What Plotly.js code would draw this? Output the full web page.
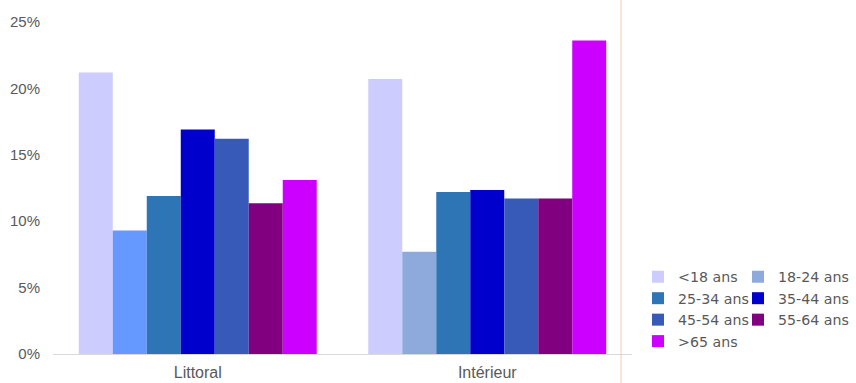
<!DOCTYPE html>
<html>
<head>
<meta charset="utf-8">
<script src="https://cdn.plot.ly/plotly-3.0.1.min.js"></script>
<style>html,body{margin:0;padding:0;background:#fff;}#chart{width:856px;height:383px;}</style>
</head>
<body>
<div id="chart"></div>
<script>
// Categories (display order)
const categories = ['Littoral', 'Intérieur'];
// Age groups
const seriesNames = ['<18 ans', '18-24 ans', '25-34 ans', '35-44 ans', '45-54 ans', '55-64 ans', '>65 ans'];
// Values in % : [Littoral, Intérieur]
const lt18   = [21.2, 20.7];
const a18_24 = [9.3, 7.7];
const a25_34 = [11.9, 12.2];
const a35_44 = [16.9, 12.35];
const a45_54 = [16.2, 11.7];
const a55_64 = [11.35, 11.7];
const gt65   = [13.1, 23.6];
const seriesValues = [lt18, a18_24, a25_34, a35_44, a45_54, a55_64, gt65];
// Colours per series: [Littoral, Intérieur]
const seriesColors = [
  ['#CCCCFF', '#CCCCFF'],
  ['#6699FF', '#8EA9DB'],
  ['#2E75B6', '#2E75B6'],
  ['#0000CC', '#0000CC'],
  ['#375AB9', '#375AB9'],
  ['#800080', '#800080'],
  ['#CC00FF', '#CC00FF']
];
const yTickVals = [0, 5, 10, 15, 20, 25];
const yTickText = yTickVals.map(v => v + '%');

// Points are given Intérieur-first so the legend swatch uses the Intérieur colour
const order = [1, 0];
const traces = seriesNames.map((name, i) => ({
  type: 'bar',
  name: name,
  x: order.map(k => categories[k]),
  y: order.map(k => seriesValues[i][k]),
  marker: { color: order.map(k => seriesColors[i][k]), line: { width: 0 } },
  legend: (i % 2 === 0) ? 'legend' : 'legend2',
  hoverinfo: 'x+y+name'
}));

const legendFont = { family: 'DejaVu Sans, sans-serif', size: 14.2, color: '#595959' };

const layout = {
  width: 856, height: 383,
  margin: { l: 53, r: 224, t: 22, b: 29, pad: 0, autoexpand: false },
  paper_bgcolor: '#ffffff', plot_bgcolor: '#ffffff',
  barmode: 'group', bargap: 0.178, bargroupgap: 0,
  showlegend: true,
  xaxis: {
    type: 'category', categoryorder: 'array', categoryarray: categories,
    showgrid: false, zeroline: false,
    showline: true, linecolor: '#D9D9D9', linewidth: 1,
    ticks: '', ticklabelstandoff: 4,
    tickfont: { family: 'Liberation Sans, Arial, sans-serif', size: 16, color: '#595959' }
  },
  yaxis: {
    range: [0, 25], tickmode: 'array', tickvals: yTickVals, ticktext: yTickText,
    showgrid: false, zeroline: false, showline: false,
    ticks: '', ticklabelstandoff: 12,
    tickfont: { family: 'Liberation Sans, Arial, sans-serif', size: 15, color: '#595959' }
  },
  legend: {
    orientation: 'v', xref: 'container', yref: 'container',
    x: 638 / 856, xanchor: 'left', y: 1 - 261 / 383, yanchor: 'top',
    bgcolor: 'rgba(0,0,0,0)', borderwidth: 0, font: legendFont, traceorder: 'normal'
  },
  legend2: {
    orientation: 'v', xref: 'container', yref: 'container',
    x: 738 / 856, xanchor: 'left', y: 1 - 261 / 383, yanchor: 'top',
    bgcolor: 'rgba(0,0,0,0)', borderwidth: 0, font: legendFont, traceorder: 'normal'
  },
  shapes: [{
    type: 'line', xref: 'paper', yref: 'paper',
    x0: 0.981, x1: 0.981, y0: -0.1, y1: 1.1,
    line: { color: '#F8CBAD', width: 1 }
  }]
};

Plotly.newPlot('chart', traces, layout, { displayModeBar: false, staticPlot: true });
</script>
</body>
</html>
